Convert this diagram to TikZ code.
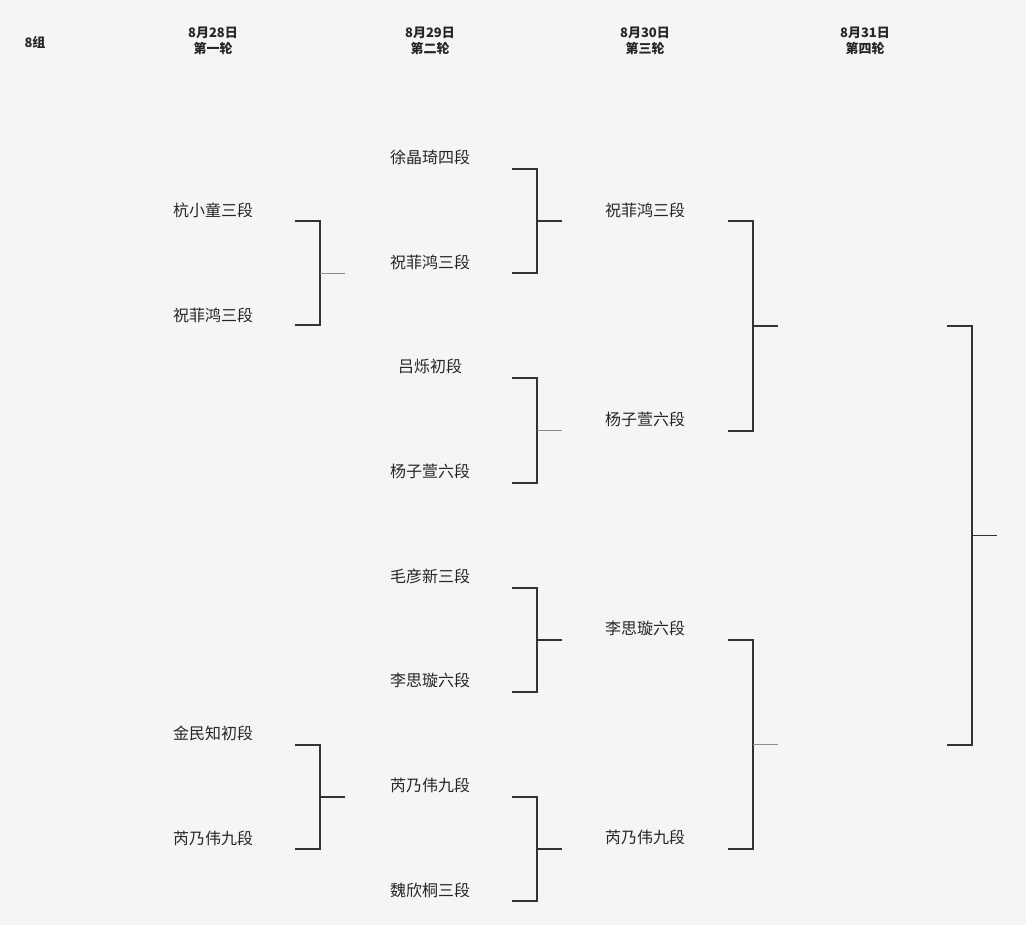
\documentclass[tikz,border=0pt]{standalone}
\usepackage{fontspec}
\newfontfamily\cjk{Noto Sans CJK SC}
\begin{document}
\begin{tikzpicture}[x=1pt,y=-1pt,
  nm/.style={font=\cjk\fontsize{16}{18}\selectfont,text=black!85,inner sep=0},
  hd/.style={font=\cjk\bfseries\fontsize{13}{16}\selectfont,align=center,inner sep=0,text=black!85},
  ln/.style={draw=black!80,line width=1.1pt},
  st/.style={draw=black!45,line width=0.8pt}]
\fill[black!4] (0,0) rectangle (1026,925);
\useasboundingbox (0,0) rectangle (1026,925);
\node[hd] (g) at (35,42) {8组};
\node[hd] (h1) at (213,41) {8月28日\\第一轮};
\node[hd] (h2) at (430,41) {8月29日\\第二轮};
\node[hd] (h3) at (645,41) {8月30日\\第三轮};
\node[hd] (h4) at (865,41) {8月31日\\第四轮};
% round 1
\node[nm] (a1) at (213,210) {杭小童三段};
\node[nm] (a2) at (213,315) {祝菲鸿三段};
\node[nm] (a3) at (213,733) {金民知初段};
\node[nm] (a4) at (213,838) {芮乃伟九段};
% round 2
\foreach \t/\y [count=\i] in {徐晶琦四段/157,祝菲鸿三段/262,吕烁初段/366,杨子萱六段/471,毛彦新三段/576,李思璇六段/680,芮乃伟九段/785,魏欣桐三段/890}
  \node[nm] (b\i) at (430,\y) {\t};
% round 3
\node[nm] (c1) at (645,210) {祝菲鸿三段};
\node[nm] (c2) at (645,419) {杨子萱六段};
\node[nm] (c3) at (645,628) {李思璇六段};
\node[nm] (c4) at (645,837) {芮乃伟九段};
% brackets
\newcommand\brk[5]{% x1 x2 ytop ybot stubstyle
  \draw[ln] (#1,#3) -- (#2,#3) -- (#2,#4) -- (#1,#4);
  \draw[#5] (#2,{(#3+#4)/2}) coordinate (m) -- ++(25,0) coordinate (o);}
\brk{295}{320}{221}{325}{st}
\brk{295}{320}{745}{849}{ln}
\brk{512}{537}{169}{273}{ln}
\brk{512}{537}{378}{483}{st}
\brk{512}{537}{588}{692}{ln}
\brk{512}{537}{797}{901}{ln}
\brk{728}{753}{221}{431}{ln}
\brk{728}{753}{640}{849}{st}
\brk{947}{972}{326}{745}{ln}
\end{tikzpicture}
\end{document}
